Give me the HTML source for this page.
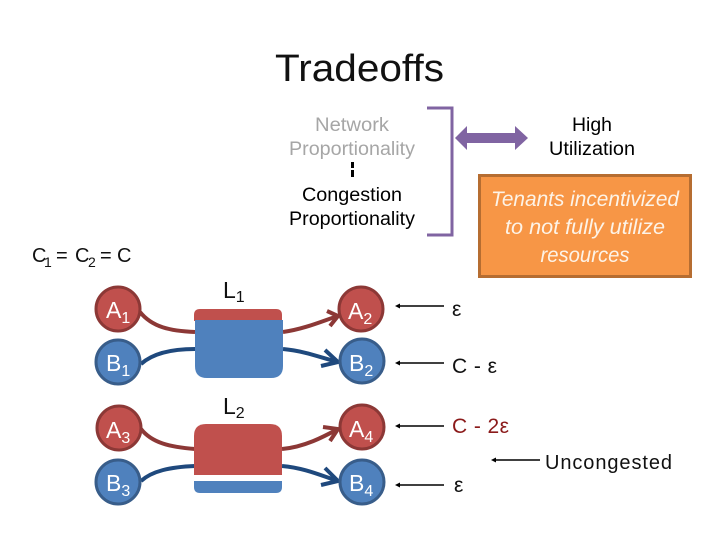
<!DOCTYPE html>
<html><head><meta charset="utf-8"><style>
html,body{margin:0;padding:0;background:#fff;width:720px;height:540px;overflow:hidden}
svg{display:block}
text{font-family:"Liberation Sans",sans-serif}
</style></head><body>
<svg width="720" height="540" viewBox="0 0 720 540" xmlns="http://www.w3.org/2000/svg">
<text x="275" y="81" font-size="38" textLength="169" lengthAdjust="spacingAndGlyphs" fill="#111">Tradeoffs</text>

<g font-size="19" text-anchor="middle">
<text x="352" y="131" fill="#a6a6a6" textLength="74" lengthAdjust="spacingAndGlyphs">Network</text>
<text x="352" y="155" fill="#a6a6a6" textLength="126" lengthAdjust="spacingAndGlyphs">Proportionality</text>
<text x="352" y="201" fill="#000" textLength="100" lengthAdjust="spacingAndGlyphs">Congestion</text>
<text x="352" y="225" fill="#000" textLength="126" lengthAdjust="spacingAndGlyphs">Proportionality</text>
<text x="592" y="131" fill="#000" textLength="40" lengthAdjust="spacingAndGlyphs">High</text>
<text x="592" y="155" fill="#000" textLength="86" lengthAdjust="spacingAndGlyphs">Utilization</text>
</g>
<rect x="351" y="162" width="3" height="6" fill="#000"/><rect x="351" y="170" width="3" height="7" fill="#000"/>

<path d="M427 108H452V235H427" fill="none" stroke="#8064a2" stroke-width="3"/>
<path d="M455 138L467 126V133H515V126L528 138L515 150V143H467V150Z" fill="#8064a2"/>

<rect x="479.500" y="175.500" width="211" height="101" fill="#f79646" stroke="#b66d31" stroke-width="3"/>
<g font-size="21" font-style="italic" fill="#fdf3e7" text-anchor="middle">
<text x="585" y="206" textLength="188" lengthAdjust="spacingAndGlyphs">Tenants incentivized</text>
<text x="585" y="234" textLength="160" lengthAdjust="spacingAndGlyphs">to not fully utilize</text>
<text x="585" y="262" textLength="89" lengthAdjust="spacingAndGlyphs">resources</text>
</g>

<g font-size="20" fill="#111">
<text x="32" y="262">C</text>
<text x="44" y="267" font-size="14">1</text>
<text x="56" y="262">=</text>
<text x="75" y="262">C</text>
<text x="88" y="267" font-size="14">2</text>
<text x="100" y="262">=</text>
<text x="117" y="262">C</text>
</g>

<!-- links -->
<g fill="none" stroke-width="4">
<path d="M140 312C152 327 170 331 195 332" stroke="#8c3836"/>
<path d="M283 332C305 329 325 320 338 316" stroke="#8c3836"/>
<path d="M327 311L338 316L330 326" stroke="#8c3836"/>
<path d="M141 364C152 354 170 349 195 349" stroke="#1f497d"/>
<path d="M283 349C305 351 322 358 338 362" stroke="#1f497d"/>
<path d="M325 350L338 362L321 366" stroke="#1f497d"/>
<path d="M141 429C152 443 170 447 195 449" stroke="#8c3836"/>
<path d="M282 449C305 447 325 436 338 429" stroke="#8c3836"/>
<path d="M323 427L338 429L330 441" stroke="#8c3836"/>
<path d="M141 481C152 471 170 467 195 466" stroke="#1f497d"/>
<path d="M282 466C305 468 322 476 338 481" stroke="#1f497d"/>
<path d="M325 468L338 481L321 485" stroke="#1f497d"/>
</g>

<!-- link bars -->
<path d="M194 321V315Q194 309 200 309H276Q282 309 282 315V321Z" fill="#c0504d"/>
<path d="M195 320H283V366Q283 378 271 378H207Q195 378 195 366Z" fill="#4f81bd"/>
<path d="M194 475V436Q194 424 206 424H270Q282 424 282 436V475Z" fill="#c0504d"/>
<path d="M194 481H282V487Q282 493 276 493H200Q194 493 194 487Z" fill="#4f81bd"/>

<!-- nodes -->
<g stroke-width="3">
<circle cx="118" cy="309" r="22" fill="#c0504d" stroke="#8c3836"/>
<circle cx="118" cy="362" r="22" fill="#4f81bd" stroke="#385d8a"/>
<circle cx="119" cy="428" r="22" fill="#c0504d" stroke="#8c3836"/>
<circle cx="118" cy="482" r="22" fill="#4f81bd" stroke="#385d8a"/>
<circle cx="361" cy="309" r="22" fill="#c0504d" stroke="#8c3836"/>
<circle cx="362" cy="361" r="22" fill="#4f81bd" stroke="#385d8a"/>
<circle cx="362" cy="427" r="22" fill="#c0504d" stroke="#8c3836"/>
<circle cx="362" cy="482" r="22" fill="#4f81bd" stroke="#385d8a"/>
</g>
<g font-size="23" fill="#fff">
<text x="106" y="318">A<tspan font-size="16" dy="5">1</tspan></text>
<text x="106" y="371">B<tspan font-size="16" dy="5">1</tspan></text>
<text x="106" y="438">A<tspan font-size="16" dy="5">3</tspan></text>
<text x="106" y="491">B<tspan font-size="16" dy="5">3</tspan></text>
<text x="348" y="319">A<tspan font-size="16" dy="5">2</tspan></text>
<text x="349" y="371">B<tspan font-size="16" dy="5">2</tspan></text>
<text x="349" y="437">A<tspan font-size="16" dy="5">4</tspan></text>
<text x="349" y="491">B<tspan font-size="16" dy="5">4</tspan></text>
</g>

<g font-size="23" fill="#111">
<text x="223" y="298">L<tspan font-size="16" dy="4">1</tspan></text>
<text x="223" y="414">L<tspan font-size="16" dy="4">2</tspan></text>
</g>

<!-- pointer arrows -->
<g stroke="#000" stroke-width="1.500">
<line x1="398" y1="306" x2="444" y2="306"/>
<line x1="398" y1="363" x2="444" y2="363"/>
<line x1="398" y1="426" x2="444" y2="426"/>
<line x1="398" y1="485" x2="444" y2="485"/>
<line x1="494" y1="460" x2="540" y2="460"/>
</g>
<g fill="#000">
<path d="M395 306L400 303.500V308.500Z"/>
<path d="M395 363L400 360.500V365.500Z"/>
<path d="M395 426L400 423.500V428.500Z"/>
<path d="M395 485L400 482.500V487.500Z"/>
<path d="M491 460L496 457.500V462.500Z"/>
</g>

<g font-size="21" fill="#111">
<text x="452" y="316">ε</text>
<text x="452" y="373" textLength="45" lengthAdjust="spacing">C - ε</text>
<text x="452" y="433" fill="#8b1a1a" textLength="57" lengthAdjust="spacing">C - 2ε</text>
<text x="454" y="492">ε</text>
<text x="545" y="469" font-size="20" textLength="127" lengthAdjust="spacing">Uncongested</text>
</g>
</svg>
</body></html>
